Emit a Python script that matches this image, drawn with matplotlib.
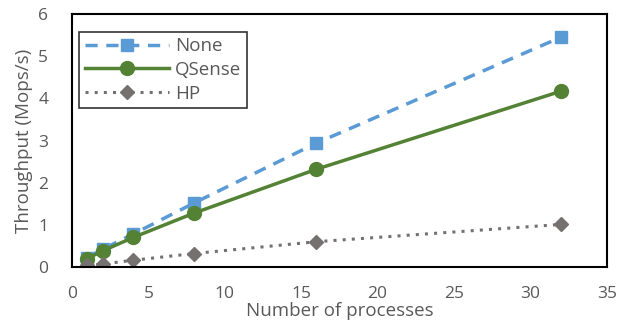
#!/usr/bin/env python3
"""Throughput vs number of processes."""

import matplotlib

matplotlib.use("Agg")
import matplotlib.pyplot as plt  # noqa: I001

processes = [1, 2, 4, 8, 16, 32]
none_tput = [0.22, 0.42, 0.78, 1.52, 2.94, 5.45]
qsense_tput = [0.20, 0.38, 0.70, 1.28, 2.32, 4.17]
hp_tput = [0.04, 0.07, 0.16, 0.32, 0.60, 1.01]

TEXT = "#595959"
plt.rcParams["font.family"] = ["Open Sans", "DejaVu Sans"]

fig = plt.figure(figsize=(6.27, 3.35), dpi=100)
ax = fig.add_axes([0.1148, 0.203, 0.853, 0.755])

ax.plot(processes, none_tput, color="#5B9BD5", linestyle=(0, (3.5, 2.5)), linewidth=2.5,
        marker="s", markersize=9, label="None")
ax.plot(processes, qsense_tput, color="#548235", linestyle="-", linewidth=2.5,
        marker="o", markersize=10, label="QSense")
ax.plot(processes, hp_tput, color="#767171", linestyle=(0, (1, 2)), linewidth=2.2,
        marker="D", markersize=7.5, label="HP")

ax.set_xlim(0, 35)
ax.set_ylim(0, 6)
ax.set_xticks(range(0, 36, 5))
ax.set_yticks(range(0, 7))
ax.tick_params(length=0, labelsize=12.5, colors=TEXT)
ax.tick_params(axis="y", pad=17)
ax.tick_params(axis="x", pad=14)
for spine in ax.spines.values():
    spine.set_color("black")
    spine.set_linewidth(1.5)

ax.set_xlabel("Number of processes", fontsize=13.5, color=TEXT, labelpad=0)
ax.set_ylabel("Throughput (Mops/s)", fontsize=13.5, color=TEXT, labelpad=4)

leg = ax.legend(loc="upper left", bbox_to_anchor=(0.014, 0.93), fontsize=13.5,
                handlelength=4.5, frameon=True, fancybox=False, borderpad=0.3,
                labelspacing=0.3, handletextpad=0.3, borderaxespad=0)
leg.get_frame().set_edgecolor("black")
leg.get_frame().set_linewidth(1.2)
for t in leg.get_texts():
    t.set_color(TEXT)

fig.savefig("out.png", dpi=100)
